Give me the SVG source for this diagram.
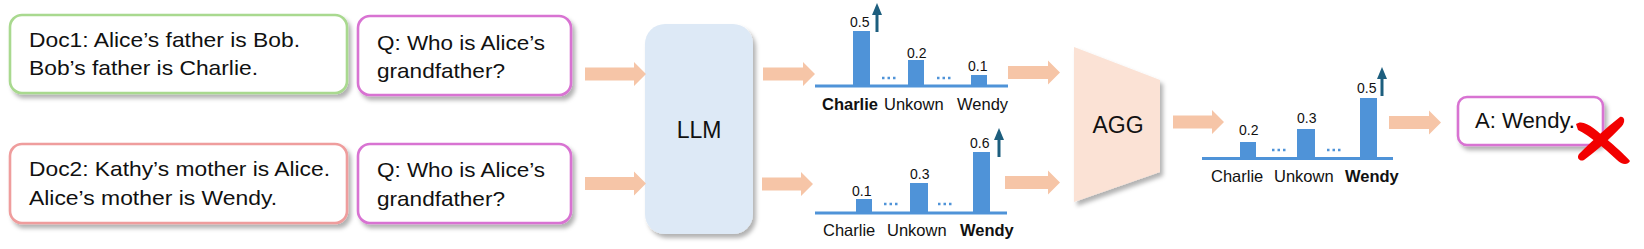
<svg xmlns="http://www.w3.org/2000/svg" width="1644" height="249" viewBox="0 0 1644 249">
<defs>
<filter id="sh" x="-10%" y="-10%" width="130%" height="140%">
<feDropShadow dx="3" dy="4" stdDeviation="2.2" flood-color="#000" flood-opacity="0.3"/>
</filter>
<style>
.box{fill:#fff;stroke-width:2.6;filter:url(#sh)}
.g{stroke:#a9d98f}.p{stroke:#ef9d9d}.m{stroke:#d873d2}
.t{font-family:"Liberation Sans",Arial,sans-serif;font-size:21px;fill:#111}
.big{font-family:"Liberation Sans",Arial,sans-serif;font-size:23px;fill:#111;text-anchor:middle}
.num{font-family:"Liberation Sans",Arial,sans-serif;font-size:14px;fill:#111}
.lab{font-family:"Liberation Sans",Arial,sans-serif;font-size:16.5px;fill:#111}
.b{font-weight:bold}
.bar{fill:#4f93d8}
.axis{stroke:#4f93d8;stroke-width:3}
.dots{stroke:#4f93d8;stroke-width:2.5;stroke-dasharray:2.5 3}
.arr{fill:#f6c5a7}
.ups{stroke:#1d5e7e;stroke-width:3}
.uph{fill:#1d5e7e}
.x{fill:#f20000}
</style>
</defs>

<g id="doc1">
<rect class="box g" x="10" y="15" width="337" height="78" rx="12"/>
<text class="t" x="29" y="47" textLength="271" lengthAdjust="spacingAndGlyphs">Doc1: Alice’s father is Bob.</text>
<text class="t" x="29" y="75" textLength="229" lengthAdjust="spacingAndGlyphs">Bob’s father is Charlie.</text>
</g>
<g id="q1">
<rect class="box m" x="358" y="16" width="213" height="79" rx="12"/>
<text class="t" x="377" y="50" textLength="168" lengthAdjust="spacingAndGlyphs">Q: Who is Alice’s</text>
<text class="t" x="377" y="78" textLength="128" lengthAdjust="spacingAndGlyphs">grandfather?</text>
</g>
<g id="doc2">
<rect class="box p" x="10" y="144" width="337" height="79" rx="12"/>
<text class="t" x="29" y="176" textLength="301" lengthAdjust="spacingAndGlyphs">Doc2: Kathy’s mother is Alice.</text>
<text class="t" x="29" y="205" textLength="248" lengthAdjust="spacingAndGlyphs">Alice’s mother is Wendy.</text>
</g>
<g id="q2">
<rect class="box m" x="358" y="144" width="213" height="79" rx="12"/>
<text class="t" x="377" y="177" textLength="168" lengthAdjust="spacingAndGlyphs">Q: Who is Alice’s</text>
<text class="t" x="377" y="206" textLength="128" lengthAdjust="spacingAndGlyphs">grandfather?</text>
</g>

<g id="llm">
<rect x="645" y="24" width="108" height="210" rx="20" fill="#dde9f6" filter="url(#sh)"/>
<text class="big" x="699" y="138">LLM</text>
</g>

<g id="chart1">
<rect class="bar" x="853" y="31" width="17" height="55"/>
<rect class="bar" x="908" y="60" width="16" height="26"/>
<rect class="bar" x="971" y="75" width="16" height="11"/>
<line class="axis" x1="815" y1="86" x2="1008" y2="86"/>
<line class="dots" x1="882" y1="78" x2="898" y2="78"/>
<line class="dots" x1="937" y1="78" x2="953" y2="78"/>
<text class="num" x="850" y="27">0.5</text>
<text class="num" x="907" y="58">0.2</text>
<text class="num" x="968" y="71">0.1</text>
<line class="ups" x1="877" y1="32" x2="877" y2="14"/>
<polygon class="uph" points="872,15 877,3 882,15"/>
<text class="lab b" x="822" y="110">Charlie</text>
<text class="lab" x="884" y="110">Unkown</text>
<text class="lab" x="957" y="110">Wendy</text>
</g>

<g id="chart2">
<rect class="bar" x="856" y="199" width="16" height="14"/>
<rect class="bar" x="910" y="183" width="18" height="30"/>
<rect class="bar" x="973" y="152" width="17" height="61"/>
<line class="axis" x1="815" y1="213" x2="1007" y2="213"/>
<line class="dots" x1="884" y1="204" x2="900" y2="204"/>
<line class="dots" x1="938" y1="204" x2="954" y2="204"/>
<text class="num" x="852" y="196">0.1</text>
<text class="num" x="910" y="179">0.3</text>
<text class="num" x="970" y="148">0.6</text>
<line class="ups" x1="999" y1="157" x2="999" y2="139"/>
<polygon class="uph" points="994,140 999,128 1004,140"/>
<text class="lab" x="823" y="236">Charlie</text>
<text class="lab" x="887" y="236">Unkown</text>
<text class="lab b" x="960" y="236">Wendy</text>
</g>

<g id="agg">
<polygon points="1074,47 1160,80 1160,172 1074,202" fill="#fbe2d5" filter="url(#sh)"/>
<text class="big" x="1118" y="133">AGG</text>
</g>

<g id="chart3">
<rect class="bar" x="1240" y="142" width="16" height="17"/>
<rect class="bar" x="1297" y="129" width="18" height="30"/>
<rect class="bar" x="1360" y="98" width="17" height="61"/>
<line class="axis" x1="1202" y1="158.5" x2="1393" y2="158.5"/>
<line class="dots" x1="1272" y1="150" x2="1288" y2="150"/>
<line class="dots" x1="1327" y1="150" x2="1343" y2="150"/>
<text class="num" x="1239" y="135">0.2</text>
<text class="num" x="1297" y="123">0.3</text>
<text class="num" x="1357" y="93">0.5</text>
<line class="ups" x1="1382" y1="96" x2="1382" y2="78"/>
<polygon class="uph" points="1377,79 1382,67 1387,79"/>
<text class="lab" x="1211" y="182">Charlie</text>
<text class="lab" x="1274" y="182">Unkown</text>
<text class="lab b" x="1345" y="182">Wendy</text>
</g>

<g id="answer">
<rect class="box m" x="1458" y="97" width="145" height="48" rx="9"/>
<text class="t" x="1475" y="128" style="font-size:22px" textLength="100" lengthAdjust="spacingAndGlyphs">A: Wendy.</text>
<path class="x" d="M1576,124 C1584,118 1596,130 1610,142 C1618,149 1626,156 1630,161 C1628,165 1622,165 1617,160 C1604,148 1590,136 1578,130 Z"/>
<path class="x" d="M1620,117 C1624,116 1626,121 1622,126 C1610,139 1596,151 1584,160 C1580,162 1576,158 1579,154 C1592,141 1606,128 1620,117 Z"/>
</g>

<g id="connectors">
<path class="arr" d="M585,67.5 H634 V62 L646,74 L634,86 V80.5 H585 Z"/>
<path class="arr" d="M585,177 H634 V171.5 L646,183.5 L634,195.5 V190 H585 Z"/>
<path class="arr" d="M763,67.5 H803 V62 L815,74 L803,86 V80.5 H763 Z"/>
<path class="arr" d="M762,177.5 H801 V172 L813,184 L801,196 V190.5 H762 Z"/>
<path class="arr" d="M1008,66 H1048 V60.5 L1060,72.5 L1048,84.5 V79 H1008 Z"/>
<path class="arr" d="M1005,176 H1048 V170.5 L1060,182.5 L1048,194.5 V189 H1005 Z"/>
<path class="arr" d="M1173,115.5 H1212 V110 L1224,122 L1212,134 V128.5 H1173 Z"/>
<path class="arr" d="M1389,116 H1429 V110.5 L1441,122.5 L1429,134.5 V129 H1389 Z"/>
</g>
</svg>
